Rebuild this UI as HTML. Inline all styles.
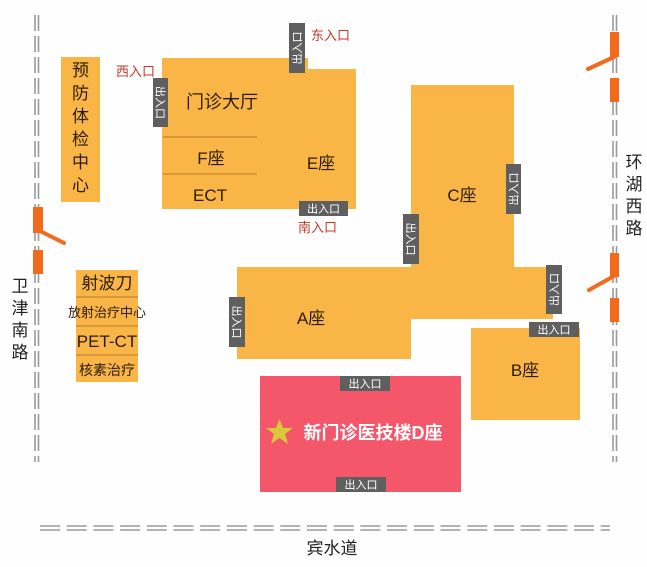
<!DOCTYPE html>
<html><head><meta charset="utf-8"><style>
html,body{margin:0;padding:0;background:#fff;}
svg{display:block;font-family:"Liberation Sans","Noto Sans CJK SC",sans-serif;}
</style></head><body>
<svg width="647" height="567" viewBox="0 0 647 567" xmlns="http://www.w3.org/2000/svg">
<rect width="647" height="567" fill="#fefefe"/>
<!-- roads -->
<g stroke="#9a9a9a" stroke-width="1.6" stroke-dasharray="16,5" fill="none">
<line x1="35" y1="15" x2="35" y2="462"/><line x1="38.5" y1="15" x2="38.5" y2="462"/>
<line x1="613" y1="15" x2="613" y2="462"/><line x1="616.5" y1="15" x2="616.5" y2="462"/>
</g>
<g stroke="#9a9a9a" stroke-width="1.6" stroke-dasharray="20,6.7" fill="none">
<line x1="40" y1="526" x2="610" y2="526"/><line x1="40" y1="530" x2="610" y2="530"/>
</g>
<!-- gates -->
<g fill="#f26a1b">
<rect x="33" y="207" width="10" height="26"/><rect x="33" y="250" width="10" height="24"/>
<rect x="610" y="32" width="9" height="25"/><rect x="610" y="78" width="9" height="24"/>
<rect x="610" y="253" width="9" height="24"/><rect x="610" y="298" width="9" height="24"/>
</g>
<g stroke="#f26a1b" stroke-width="4" stroke-linecap="round">
<line x1="40" y1="231" x2="64" y2="243"/>
<line x1="614" y1="57" x2="588" y2="69"/>
<line x1="614" y1="276" x2="589" y2="290"/>
</g>
<!-- buildings -->
<g fill="#f9b646">
<rect x="61" y="57" width="39" height="145"/>
<rect x="76" y="270" width="62" height="112"/>
<polygon points="162,58 308,58 308,69 356,69 356,209 162,209"/>
<rect x="411" y="85" width="103" height="182"/>
<polygon points="237,267 553,267 553,319 411,319 411,359 237,359"/>
<rect x="471" y="328" width="109" height="92"/>
</g>
<rect x="260" y="376" width="201" height="116" fill="#f4566a"/>
<g stroke="#b8792a" stroke-width="1">
<line x1="163" y1="137" x2="257" y2="137"/><line x1="163" y1="174" x2="257" y2="174"/>
<line x1="76" y1="297" x2="138" y2="297"/><line x1="76" y1="326" x2="138" y2="326"/><line x1="76" y1="355" x2="138" y2="355"/>
</g>
<!-- tags -->
<g fill="#5f5f5f">
<rect x="153" y="78" width="15" height="49"/>
<rect x="289" y="23" width="16" height="50"/>
<rect x="299" y="201" width="49" height="15"/>
<rect x="403" y="214" width="16" height="50"/>
<rect x="506" y="164" width="15" height="50"/>
<rect x="546" y="265" width="16" height="49"/>
<rect x="229" y="297" width="16" height="50"/>
<rect x="529" y="322" width="50" height="15"/>
<rect x="340" y="376" width="50" height="15"/>
<rect x="336" y="477" width="50" height="15"/>
</g>
<g fill="#fff" font-size="11" text-anchor="middle">
<text transform="translate(160.5,102.5) rotate(90)" y="4">出入口</text>
<text transform="translate(297,48) rotate(-90)" y="4">出入口</text>
<text x="323.5" y="212.5">出入口</text>
<text transform="translate(411,239) rotate(90)" y="4">出入口</text>
<text transform="translate(513.5,189) rotate(-90)" y="4">出入口</text>
<text transform="translate(554,289.5) rotate(-90)" y="4">出入口</text>
<text transform="translate(237,322) rotate(90)" y="4">出入口</text>
<text x="554" y="333.5">出入口</text>
<text x="365" y="387.5">出入口</text>
<text x="361" y="488.5">出入口</text>
</g>
<!-- red labels -->
<g fill="#c0392b" font-size="13">
<text x="311" y="40">东入口</text>
<text x="116" y="76">西入口</text>
<text x="298" y="232">南入口</text>
</g>
<!-- building labels -->
<g fill="#2a1a0a" text-anchor="middle">
<g font-size="17">
<text x="80.5" y="76">预</text><text x="80.5" y="99">防</text><text x="80.5" y="122">体</text>
<text x="80.5" y="145">检</text><text x="80.5" y="168">中</text><text x="80.5" y="191">心</text>
</g>
<text x="222" y="108" font-size="18">门诊大厅</text>
<text x="211" y="164" font-size="17">F座</text>
<text x="210" y="201" font-size="17">ECT</text>
<text x="321" y="169" font-size="17">E座</text>
<text x="462" y="201" font-size="17">C座</text>
<text x="311" y="324" font-size="17">A座</text>
<text x="525" y="376" font-size="17">B座</text>
<text x="107" y="289" font-size="17">射波刀</text>
<text x="107" y="317" font-size="13">放射治疗中心</text>
<text x="107" y="347" font-size="17">PET-CT</text>
<text x="107" y="375" font-size="14">核素治疗</text>
</g>
<!-- D -->
<polygon points="279.5,419 283,428 293,428 285,434 288,444 279.5,438 271,444 274,434 266,428 276,428" fill="#d9c93a"/>
<text x="373" y="439" fill="#fff" font-size="18" font-weight="bold" text-anchor="middle">新门诊医技楼D座</text>
<!-- road names -->
<g fill="#222" font-size="17" text-anchor="middle">
<text x="20" y="292">卫</text><text x="20" y="314">津</text><text x="20" y="336">南</text><text x="20" y="358">路</text>
<text x="634" y="168">环</text><text x="634" y="190">湖</text><text x="634" y="212">西</text><text x="634" y="234">路</text>
<text x="332" y="554">宾水道</text>
</g>
</svg>
</body></html>
